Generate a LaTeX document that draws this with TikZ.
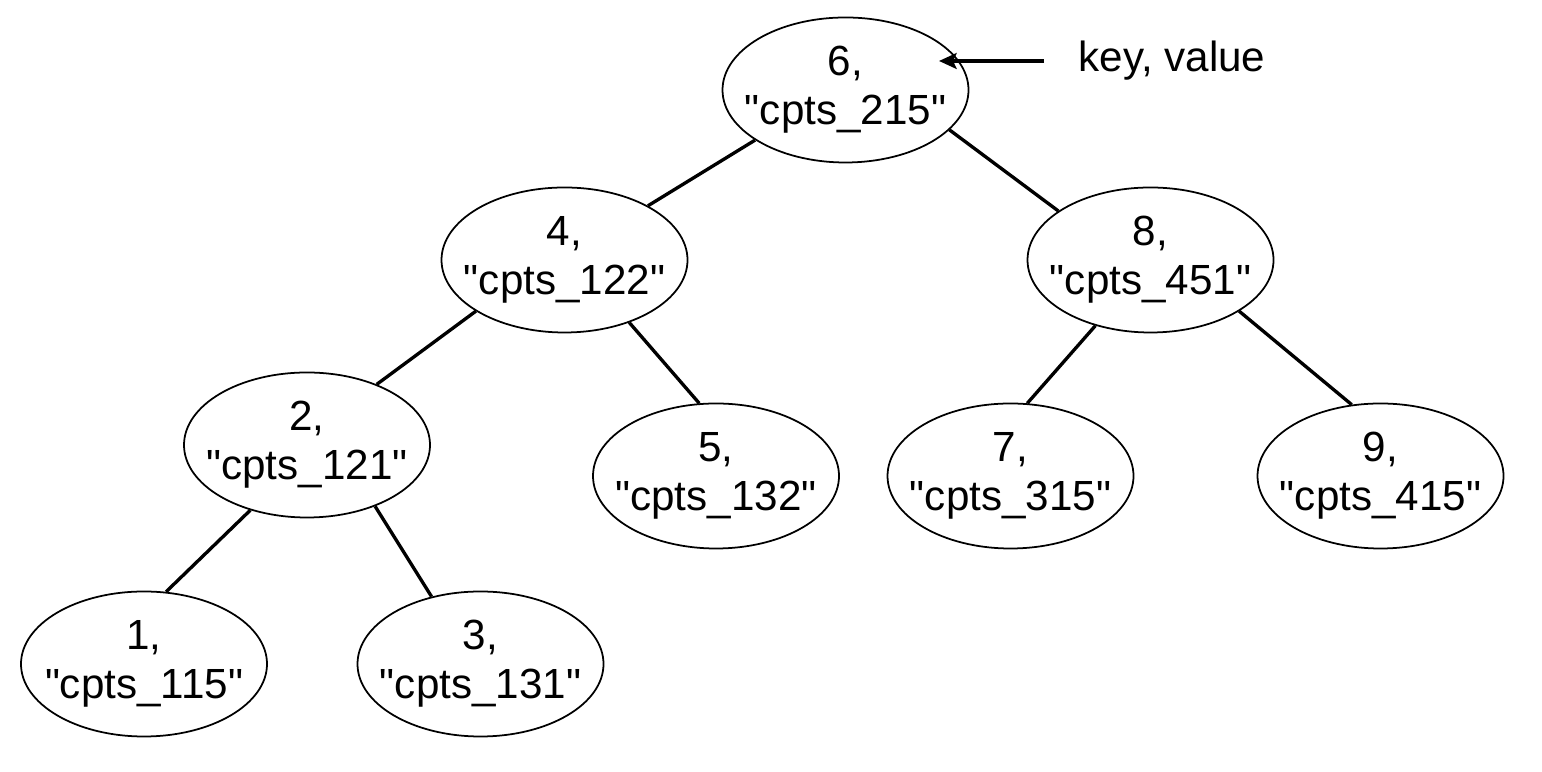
\documentclass[tikz,border=0pt]{standalone}
\usepackage{fontspec}
\setmainfont{Liberation Sans}[Ligatures=TeXOff]
\usetikzlibrary{shapes.geometric,arrows.meta}

\tikzset{
  keynode/.style={ellipse, draw, line width=0.5pt, minimum width=2.46cm,
    minimum height=1.45cm, inner xsep=-5mm, inner ysep=-3mm, align=center,
    font=\fontsize{12}{14}\selectfont},
  treeedge/.style={line width=0.95pt}
}

\begin{document}
\begin{tikzpicture}
      \useasboundingbox (0,0) rectangle (15.42,-7.72);

      \node[keynode] (n6) at (8.455,-0.90) {6,\\"cpts\_215"};
      \node[keynode] (n4) at (5.645,-2.60) {4,\\"cpts\_122"};
      \node[keynode] (n8) at (11.505,-2.60) {8,\\"cpts\_451"};
      \node[keynode] (n2) at (3.07,-4.45) {2,\\"cpts\_121"};
      \node[keynode] (n5) at (7.16,-4.76) {5,\\"cpts\_132"};
      \node[keynode] (n7) at (10.105,-4.76) {7,\\"cpts\_315"};
      \node[keynode] (n9) at (13.805,-4.76) {9,\\"cpts\_415"};
      \node[keynode] (n1) at (1.44,-6.64) {1,\\"cpts\_115"};
      \node[keynode] (n3) at (4.805,-6.64) {3,\\"cpts\_131"};

      \draw[treeedge] (n6.-151) -- (n4.33);
      \draw[treeedge] (n6.-21) -- (n8.152);
      \draw[treeedge] (n4.-150) -- (n2.41);
      \draw[treeedge] (n4.-44) -- (n5.103);
      \draw[treeedge] (n8.-130) -- (n7.77);
      \draw[treeedge] (n8.-30) -- (n9.112);
      \draw[treeedge] (n2.-131) -- (n1.73);
      \draw[treeedge] (n2.-42) -- (n3.126);

      % label for the root
      \node[font=\fontsize{12}{14}\selectfont] (kv) at (11.72,-0.61) {key, value};
      \coordinate (kvtip) at (9.39,-0.61);
      \draw[treeedge,-{Stealth[length=5pt,width=4.5pt,inset=1pt]}] (kv.west) ++(-0.22,0) -- (kvtip);
\end{tikzpicture}
\end{document}
